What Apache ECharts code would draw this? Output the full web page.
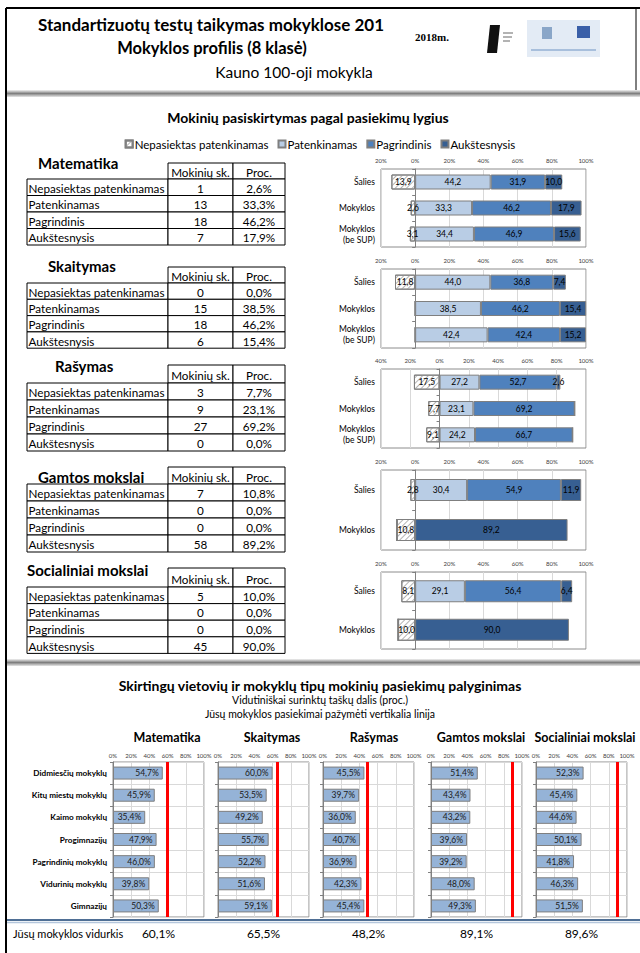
<!DOCTYPE html>
<html><head><meta charset="utf-8">
<script src="https://cdn.jsdelivr.net/npm/echarts@6/dist/echarts.min.js"></script>
<style>html,body{margin:0;padding:0;background:#fff}#c{width:640px;height:953px}</style>
</head><body><div id="c"></div>
<script>
// ---------- DATA ----------
const levels = ['Nepasiektas patenkinamas', 'Patenkinamas', 'Pagrindinis', 'Aukštesnysis'];
const cats3 = ['Šalies', 'Mokyklos', 'Mokyklos\n(be SUP)'];
const cats2 = ['Šalies', 'Mokyklos'];
const subjects = ['Matematika', 'Skaitymas', 'Rašymas', 'Gamtos mokslai', 'Socialiniai mokslai'];

const matNep = [13.9, 2.6, 3.1], matPat = [44.2, 33.3, 34.4], matPag = [31.9, 46.2, 46.9], matAuk = [10.0, 17.9, 15.6];
const skaNep = [11.8, 0, 0], skaPat = [44.0, 38.5, 42.4], skaPag = [36.8, 46.2, 42.4], skaAuk = [7.4, 15.4, 15.2];
const rasNep = [17.5, 7.7, 9.1], rasPat = [27.2, 23.1, 24.2], rasPag = [52.7, 69.2, 66.7], rasAuk = [2.6, 0, 0];
const gamNep = [2.8, 10.8], gamPat = [30.4, 0], gamPag = [54.9, 0], gamAuk = [11.9, 89.2];
const socNep = [8.1, 10.0], socPat = [29.1, 0], socPag = [56.4, 0], socAuk = [6.4, 90.0];

const matCounts = [1, 13, 18, 7];
const skaCounts = [0, 15, 18, 6];
const rasCounts = [3, 9, 27, 0];
const gamCounts = [7, 0, 0, 58];
const socCounts = [5, 0, 0, 45];

const matPct = [2.6, 33.3, 46.2, 17.9];
const skaPct = [0.0, 38.5, 46.2, 15.4];
const rasPct = [7.7, 23.1, 69.2, 0.0];
const gamPct = [10.8, 0.0, 0.0, 89.2];
const socPct = [10.0, 0.0, 0.0, 90.0];

const groups = ['Didmiesčių mokyklų', 'Kitų miestų mokyklų', 'Kaimo mokyklų', 'Progimnazijų', 'Pagrindinių mokyklų', 'Vidurinių mokyklų', 'Gimnazijų'];
const cmpMat = [54.7, 45.9, 35.4, 47.9, 46.0, 39.8, 50.3];
const cmpSka = [60.0, 53.5, 49.2, 55.7, 52.2, 51.6, 59.1];
const cmpRas = [45.5, 39.7, 36.0, 40.7, 36.9, 42.3, 45.4];
const cmpGam = [51.4, 43.4, 43.2, 39.6, 39.2, 48.0, 49.3];
const cmpSoc = [52.3, 45.4, 44.6, 50.1, 41.8, 46.3, 51.5];
const schoolAvg = [60.1, 65.5, 48.2, 89.1, 89.6];

// ---------- HELPERS ----------
const fmt = v => v.toFixed(1).replace('.', ',');
const FONT = 'Lato, "Open Sans", sans-serif';
const levelColors = ['#ffffff', '#b9cde5', '#4f81bd', '#375f92'];
const hatch = { symbol: 'rect', color: '#b3b3b3', dashArrayX: [1, 0], dashArrayY: [1, 2.2], rotation: -Math.PI / 4, symbolSize: 1 };

const stackData = [
  [matNep, matPat, matPag, matAuk],
  [skaNep, skaPat, skaPag, skaAuk],
  [rasNep, rasPat, rasPag, rasAuk],
  [gamNep, gamPat, gamPag, gamAuk],
  [socNep, socPat, socPag, socAuk]
];
const stackCats = [cats3, cats3, cats3, cats2, cats2];
const stackLayout = [
  { top: 169, height: 78, min: -20, bw: 15 },
  { top: 269, height: 79, min: -20, bw: 15 },
  { top: 369, height: 79, min: -40, bw: 15 },
  { top: 470, height: 80, min: -20, bw: 22 },
  { top: 572, height: 77, min: -20, bw: 22 }
];
const cmpData = [cmpMat, cmpSka, cmpRas, cmpGam, cmpSoc];
const cmpLeft = [113, 218, 323, 431, 536];
const cmpW = 91, cmpTop = 762, cmpH = 155;

const grid = [], xAxis = [], yAxis = [], series = [];

// stacked charts
stackLayout.forEach((L, g) => {
  grid.push({ left: 381, width: 205, top: L.top, height: L.height, show: true, borderColor: '#8c8c8c', borderWidth: 1, containLabel: false });
  xAxis.push({
    type: 'value', gridIndex: g, position: 'top', min: L.min, max: 100, interval: 20,
    axisLine: { show: false }, axisTick: { show: false },
    axisLabel: { fontSize: 6, color: '#404040', margin: 6, fontFamily: FONT, formatter: v => Math.abs(v) + '%' },
    splitLine: { show: true, lineStyle: { color: '#d9d9d9', width: 1 } }
  });
  yAxis.push({
    type: 'category', gridIndex: g, data: stackCats[g], inverse: true, position: 'left',
    axisLine: { show: false, onZero: false }, axisTick: { show: false },
    axisLabel: { fontSize: 8.5, color: '#000', margin: 6, fontFamily: FONT, lineHeight: 11 }
  });
  yAxis.push({
    type: 'category', gridIndex: g, data: stackCats[g], inverse: true, position: 'right',
    axisLine: { show: true, onZero: true, lineStyle: { color: '#808080', width: 1 } },
    axisTick: { show: true, inside: true, length: 3, lineStyle: { color: '#808080' } },
    axisLabel: { show: false }, splitLine: { show: false }
  });
  stackData[g].forEach((arr, li) => {
    series.push({
      type: 'bar', name: levels[li], xAxisIndex: g, yAxisIndex: 2 * g, stack: 'st' + g,
      barWidth: L.bw,
      data: arr.map(v => li === 0 ? -v : v),
      itemStyle: Object.assign({ color: levelColors[li], borderColor: '#7f7f7f', borderWidth: 1 }, li === 0 ? { decal: hatch } : {}),
      label: {
        show: true, position: 'inside', fontSize: 8.5, color: '#000', fontFamily: FONT,
        formatter: p => p.value === 0 ? '' : fmt(Math.abs(p.value))
      },
      emphasis: { disabled: true }, animation: false
    });
  });
});

// comparison charts
cmpData.forEach((arr, k) => {
  const gi = 5 + k;
  grid.push({ left: cmpLeft[k], width: cmpW, top: cmpTop, height: cmpH, show: true, borderColor: '#8c8c8c', borderWidth: 1 });
  xAxis.push({
    type: 'value', gridIndex: gi, position: 'top', min: 0, max: 100, interval: 20,
    axisLine: { show: false }, axisTick: { show: false },
    axisLabel: { fontSize: 6, color: '#404040', margin: 4, fontFamily: FONT, formatter: v => v + '%' },
    splitLine: { show: true, lineStyle: { color: '#d9d9d9' } }
  });
  yAxis.push({
    type: 'category', gridIndex: gi, data: groups, inverse: true,
    axisLine: { show: true, lineStyle: { color: '#808080' } },
    axisTick: { show: true, length: 3, lineStyle: { color: '#808080' } },
    splitLine: { show: true, lineStyle: { color: '#d9d9d9' } },
    axisLabel: { show: k === 0, fontSize: 8.2, fontWeight: 'bold', color: '#000', margin: 6, fontFamily: FONT }
  });
  series.push({
    type: 'bar', name: subjects[k], xAxisIndex: gi, yAxisIndex: 10 + k, barWidth: 13,
    data: arr,
    itemStyle: { color: '#95b3d7', borderColor: '#7f7f7f', borderWidth: 1 },
    label: { show: true, position: 'insideRight', distance: 4, fontSize: 8.5, color: '#1a1a1a', fontFamily: FONT, formatter: p => fmt(p.value) + '%' },
    markLine: {
      silent: true, symbol: 'none', label: { show: false },
      lineStyle: { color: '#ff0000', width: 3, type: 'solid' },
      data: [{ xAxis: schoolAvg[k] }]
    },
    emphasis: { disabled: true }, animation: false
  });
});

// ---------- GRAPHICS ----------
const G = [];
const txt = (text, x, y, font, align) => G.push({
  type: 'text', x, y, silent: true,
  style: { text, font, fill: '#000', textAlign: align || 'left', textVerticalAlign: 'middle' }
});
const line = (x1, y1, x2, y2, stroke, w) => G.push({ type: 'line', silent: true, shape: { x1, y1, x2, y2 }, style: { stroke, lineWidth: w } });
const rect = (x, y, w, h, style) => G.push({ type: 'rect', silent: true, shape: { x, y, width: w, height: h }, style });

// frame
line(6, 8, 640, 8, '#000', 2);
line(6, 8, 6, 953, '#000', 2);
line(636, 8, 636, 92, '#000', 1);

// header
txt('Standartizuotų testų taikymas mokyklose 201', 211, 24, 'bold 17px ' + FONT, 'center');
txt('2018m.', 415, 37, 'bold 11px "Liberation Serif", serif', 'left');
txt('Mokyklos profilis (8 klasė)', 212, 48, 'bold 16.5px ' + FONT, 'center');
txt('Kauno 100-oji mokykla', 294, 72, '15.5px ' + FONT, 'center');
// logos (approximate)
G.push({ type: 'polygon', silent: true, shape: { points: [[490, 25], [500, 25], [497, 53], [487, 53]] }, style: { fill: '#111' } });
line(503, 33, 513, 33, '#9a9a9a', 1.5); line(503, 37, 512, 37, '#9a9a9a', 1.5); line(503, 41, 510, 41, '#9a9a9a', 1.5);
rect(527, 20, 73, 37, { fill: '#e3ebf5' });
rect(542, 27, 10, 12, { fill: '#8aa6c8' });
rect(577, 26, 13, 12, { fill: '#3a5fa8' });
line(531, 50, 596, 50, '#a8bfdc', 2);

// dividers
const divGrad = { type: 'linear', x: 0, y: 0, x2: 0, y2: 1, colorStops: [{ offset: 0, color: '#f2f2f2' }, { offset: 0.5, color: '#7f7f7f' }, { offset: 1, color: '#e6e6e6' }] };
rect(7, 90, 633, 7, { fill: divGrad });
rect(7, 659, 633, 7, { fill: divGrad });

// section titles
txt('Mokinių pasiskirtymas pagal pasiekimų lygius', 308, 117, 'bold 14px ' + FONT, 'center');
txt('Skirtingų vietovių ir mokyklų tipų mokinių pasiekimų palyginimas', 320, 685, 'bold 14px ' + FONT, 'center');
txt('Vidutiniškai surinktų taškų dalis (proc.)', 320, 700, '10.5px ' + FONT, 'center');
txt('Jūsų mokyklos pasiekimai pažymėti vertikalia linija', 320, 714, '10.5px ' + FONT, 'center');
const cmpTitleX = [167, 272, 374, 481, 585];
subjects.forEach((s, k) => txt(s, cmpTitleX[k], 737, 'bold 12.5px ' + FONT, 'center'));

// tables
const C = [27, 168, 233, 285];
const tables = [
  { tx: 38, ty: 163, hTop: 163, rTop: 179, rH: 16.5, counts: matCounts, pct: matPct },
  { tx: 48, ty: 266, hTop: 267, rTop: 283, rH: 16.3, counts: skaCounts, pct: skaPct },
  { tx: 55, ty: 366, hTop: 365, rTop: 383, rH: 17, counts: rasCounts, pct: rasPct },
  { tx: 38, ty: 477, hTop: 467, rTop: 484, rH: 17, counts: gamCounts, pct: gamPct },
  { tx: 27, ty: 570, hTop: 568, rTop: 587, rH: 16.6, counts: socCounts, pct: socPct }
];
const cellStyle = { fill: '#fff', stroke: '#000', lineWidth: 1 };
const TF = '11.7px ' + FONT;
tables.forEach((T, t) => {
  txt(subjects[t], T.tx, T.ty, 'bold 15px ' + FONT, 'left');
  const hh = T.rTop - T.hTop;
  rect(C[1], T.hTop, C[2] - C[1], hh, cellStyle);
  rect(C[2], T.hTop, C[3] - C[2], hh, cellStyle);
  txt('Mokinių sk.', (C[1] + C[2]) / 2, T.hTop + hh / 2 + 1, TF, 'center');
  txt('Proc.', (C[2] + C[3]) / 2, T.hTop + hh / 2 + 1, TF, 'center');
  levels.forEach((lv, i) => {
    const y = T.rTop + i * T.rH;
    rect(C[0], y, C[1] - C[0], T.rH, cellStyle);
    rect(C[1], y, C[2] - C[1], T.rH, cellStyle);
    rect(C[2], y, C[3] - C[2], T.rH, cellStyle);
    txt(lv, C[0] + 1.5, y + T.rH / 2 + 0.5, TF, 'left');
    txt(String(T.counts[i]), (C[1] + C[2]) / 2, y + T.rH / 2 + 0.5, TF, 'center');
    txt(fmt(T.pct[i]) + '%', (C[2] + C[3]) / 2, y + T.rH / 2 + 0.5, TF, 'center');
  });
});

// bottom line + school averages
line(7, 920, 640, 920, '#4f6f95', 2);
line(7, 922.5, 640, 922.5, '#b4c6dc', 1.5);
txt('Jūsų mokyklos vidurkis', 13, 933, '11px ' + FONT, 'left');
schoolAvg.forEach((v, k) => txt(fmt(v) + '%', cmpLeft[k] + cmpW / 2, 933, '12px ' + FONT, 'center'));

const chart = echarts.init(document.getElementById('c'), null, { renderer: 'svg', width: 640, height: 953 });
chart.setOption({
  backgroundColor: '#fff',
  animation: false,
  textStyle: { fontFamily: FONT },
  legend: {
    data: levels, top: 133, left: 'center', itemWidth: 7, itemHeight: 7, itemGap: 9, icon: 'rect',
    textStyle: { fontSize: 11.5, color: '#000', fontFamily: FONT, padding: [0, 0, 0, -3] },
    selectedMode: false
  },
  grid, xAxis, yAxis, series,
  graphic: { elements: G }
});
</script></body></html>
